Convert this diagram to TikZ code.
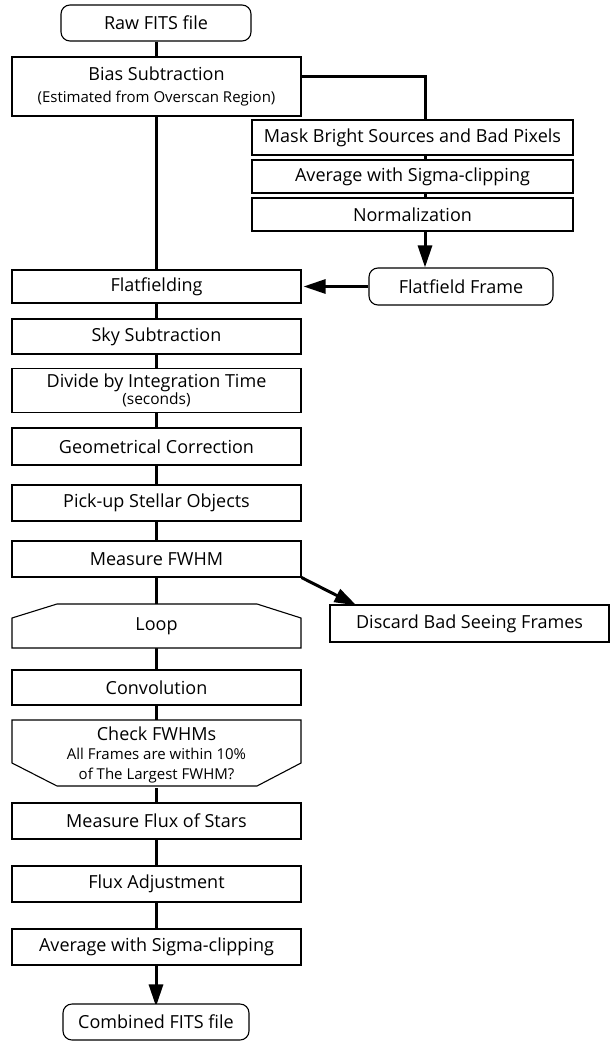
\documentclass[tikz,border=0pt]{standalone}
\usepackage{fontspec}
\setmainfont{Open Sans}
\usetikzlibrary{arrows.meta}
\pgfdeclarelayer{bg}
\pgfsetlayers{bg,main}
\begin{document}
\begin{tikzpicture}[x=1pt,y=-1pt,
  base/.style={inner sep=0pt, align=center, font=\fontsize{18}{21}\selectfont},
  proc/.style={base, draw, fill=white, line width=1.1pt, minimum width=#1},
  proc/.default=289pt,
  term/.style={base, draw, fill=white, line width=1.1pt, rounded corners=9pt},
  conn/.style={line width=3pt},
  arr/.style={conn, -{Triangle[length=22pt,width=14pt]}},
  poly/.style={draw, fill=white, line width=1.1pt}
]
\useasboundingbox (0,0) rectangle (610,1043);

% main column
\node[term, minimum width=190pt, minimum height=36pt] (raw) at (156,23) {Raw FITS file};
\node[proc, minimum height=59pt] (bias) at (156.5,86.5) {Bias Subtraction\\[1pt]{\fontsize{15}{17}\selectfont (Estimated from Overscan Region)}};
\node[proc, minimum height=44pt] (div) at (156.5,390.5) {Divide by Integration Time\\[-4pt]{\fontsize{15.5}{15}\selectfont (seconds)}};
\node[proc, minimum height=33pt] (flat) at (156.5,286.5) {Flatfielding};
\node[proc, minimum height=35pt] (sky) at (156.5,336.5) {Sky Subtraction};
\node[proc, minimum height=37pt] (geom) at (156.5,446.5) {Geometrical Correction};
\node[proc, minimum height=36pt] (pick) at (156.5,503) {Pick-up Stellar Objects};
\node[proc, minimum height=36pt] (fwhm) at (156.5,559) {Measure FWHM};

% loop shape
\draw[poly] (12,648) -- (12,618) -- (57,604) -- (257,604) -- (301,618) -- (301,648) -- cycle;
\node[base, minimum width=289pt, minimum height=44pt] (loop) at (156.5,626) {Loop};

\node[proc, minimum height=35pt] (conv) at (156.5,687.5) {Convolution};

% check shape
\draw[poly] (12,720) -- (301,720) -- (301,763) -- (257,786) -- (57,786) -- (12,763) -- cycle;
\node[base, minimum width=289pt, minimum height=66pt] (check) at (156.5,755) {Check FWHMs\\[-2pt]{\fontsize{15}{19}\selectfont All Frames are within 10\%}\\[-1pt]{\fontsize{15}{19}\selectfont of The Largest FWHM?}};

\node[proc, minimum height=36pt] (fluxs) at (156.5,821) {Measure Flux of Stars};
\node[proc, minimum height=36pt] (fluxa) at (156.5,884) {Flux Adjustment};
\node[proc, minimum height=36pt] (avg) at (156.5,947) {Average with Sigma-clipping};
\node[term, minimum width=186pt, minimum height=36pt] (comb) at (156,1022) {Combined FITS file};

% right column
\node[proc=321pt, minimum height=35pt] (mask) at (412.5,137.5) {Mask Bright Sources and Bad Pixels};
\node[proc=321pt, minimum height=33pt] (ravg) at (412.5,176.5) {Average with Sigma-clipping};
\node[proc=321pt, minimum height=33pt] (norm) at (412.5,214.5) {Normalization};
\node[term, minimum width=184pt, minimum height=37pt] (ff) at (461,286.5) {Flatfield Frame};
\node[proc=279pt, minimum height=37pt] (disc) at (469.5,623.5) {Discard Bad Seeing Frames};

\coordinate (tap) at (425,77);

\begin{pgfonlayer}{bg}
  \draw[conn] (raw.south) -- (raw.south |- bias.north);
  \draw[conn] (bias.south -| raw.south) -- (flat.north -| raw.south);
  \draw[arr] (bias.east |- tap) -- (tap) -- (tap |- ff.north);
  \draw[conn] (flat.south -| raw.south) -- (sky.north -| raw.south);
  \draw[conn] (sky.south -| raw.south) -- (div.north -| raw.south);
  \draw[conn] (div.south -| raw.south) -- (geom.north -| raw.south);
  \draw[conn] (geom.south -| raw.south) -- (pick.north -| raw.south);
  \draw[conn] (pick.south -| raw.south) -- (fwhm.north -| raw.south);
  \draw[conn] (fwhm.south -| raw.south) -- (loop.north -| raw.south);
  \draw[conn] (loop.south -| raw.south) -- (conv.north -| raw.south);
  \draw[conn] (conv.south -| raw.south) -- (check.north -| raw.south);
  \draw[conn] (check.south -| raw.south) -- (fluxs.north -| raw.south);
  \draw[conn] (fluxs.south -| raw.south) -- (fluxa.north -| raw.south);
  \draw[conn] (fluxa.south -| raw.south) -- (avg.north -| raw.south);
  \draw[arr] (avg.south -| raw.south) -- ([yshift=-3pt]comb.north -| raw.south);
\end{pgfonlayer}
\draw[arr, shorten >=2pt] (ff.west) -- (flat.east);
\draw[arr] (fwhm.south east) -- ([xshift=27pt,yshift=-1pt]disc.north west);
\end{tikzpicture}
\end{document}
